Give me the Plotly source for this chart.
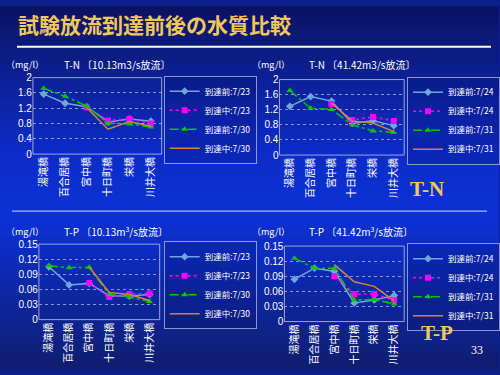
import plotly.graph_objects as go

W, H = 500, 375

categories = ["湯滝橋", "百合居橋", "宮中橋", "十日町橋", "栄橋", "川井大橋"]

# T-N (10.13m3/s)
tn1_before_723 = [1.57, 1.33, 1.24, 0.84, 0.92, 0.86]
tn1_during_723 = [None, None, 1.22, 0.88, 0.92, 0.80]
tn1_before_730 = [1.72, 1.51, 1.26, 0.81, 0.79, 0.71]
tn1_during_730 = [None, None, 1.22, 0.65, 0.85, 0.73]
tn1_names = ["到達前:7/23", "到達中:7/23", "到達前:7/30", "到達中:7/30"]

# T-N (41.42m3/s)
tn2_before_724 = [1.29, 1.55, 1.43, 0.84, 0.91, 0.78]
tn2_during_724 = [None, None, 1.35, 0.93, 1.01, 0.90]
tn2_before_731 = [1.71, 1.24, 1.21, 0.80, 0.64, 0.60]
tn2_during_731 = [None, None, 1.38, 0.90, 0.85, 0.62]
tn2_names = ["到達前:7/24", "到達中:7/24", "到達前:7/31", "到達中:7/31"]

# T-P (10.13m3/s)
tp1_before_723 = [0.105, 0.069, 0.072, 0.047, 0.047, 0.050]
tp1_during_723 = [None, None, 0.073, 0.045, 0.051, 0.052]
tp1_before_730 = [0.107, 0.103, 0.104, 0.050, 0.045, 0.036]
tp1_during_730 = [None, None, 0.104, 0.054, 0.050, 0.038]
tp1_names = ["到達前:7/23", "到達中:7/23", "到達前:7/30", "到達中:7/30"]

# T-P (41.42m3/s)
tp2_before_724 = [0.084, 0.106, 0.100, 0.037, 0.043, 0.052]
tp2_during_724 = [None, None, 0.090, 0.055, 0.055, 0.042]
tp2_before_731 = [0.126, 0.106, 0.106, 0.043, 0.044, 0.035]
tp2_during_731 = [None, None, 0.113, 0.079, 0.070, 0.041]
tp2_names = ["到達前:7/24", "到達中:7/24", "到達前:7/31", "到達中:7/31"]

main_title = "試験放流到達前後の水質比較"
panel_titles = ["T-N 〔10.13m3/s放流〕", "T-N 〔41.42m3/s放流〕",
                "T-P 〔10.13m<sup>3</sup>/s放流〕", "T-P 〔41.42m<sup>3</sup>/s放流〕"]
unit_label = "（mg/l）"

FONT = "Noto Sans CJK JP"
styles = [
    dict(color="#6fa6dc", symbol="diamond", size=6, dash="solid", width=1.5),
    dict(color="#ff00ff", symbol="square", size=6, dash="dot", width=1.5),
    dict(color="#00c800", symbol="triangle-up", size=6, dash="dashdot", width=1.5),
    dict(color="#c8883c", symbol=None, size=0, dash="solid", width=1.5),
]

def px_x(p):
    return p / W

def px_y(p):
    return 1 - p / H

panels = [
    dict(series=[tn1_before_723, tn1_during_723, tn1_before_730, tn1_during_730], names=tn1_names,
         xd=(33, 162), yd=(74, 153), rng=[0, 2], dtick=0.4, leg=(164, 72), unit=(4, 60), title=(62, 60)),
    dict(series=[tn2_before_724, tn2_during_724, tn2_before_731, tn2_during_731], names=tn2_names,
         xd=(280, 405), yd=(76, 154), rng=[0, 2], dtick=0.4, leg=(408, 73), unit=(251, 60), title=(308, 60)),
    dict(series=[tp1_before_723, tp1_during_723, tp1_before_730, tp1_during_730], names=tp1_names,
         xd=(39, 160), yd=(246, 324), rng=[0, 0.15], dtick=0.03, leg=(164, 243), unit=(4, 233), title=(62, 233)),
    dict(series=[tp2_before_724, tp2_during_724, tp2_before_731, tp2_during_731], names=tp2_names,
         xd=(285, 405), yd=(248, 326), rng=[0, 0.15], dtick=0.03, leg=(408, 245), unit=(251, 233), title=(308, 233)),
]

fig = go.Figure()
layout = dict(
    width=W, height=H, margin=dict(l=0, r=0, t=0, b=0),
    paper_bgcolor="#0c1f8c", plot_bgcolor="rgba(0,0,0,0)",
    font=dict(family=FONT, color="white", size=10),
    showlegend=True,
)
shapes = []
annotations = []

# background gradient (dark top, bright middle, darker bottom)
stops = [(0, (10, 18, 96)), (45, (12, 28, 130)), (150, (12, 44, 200)), (215, (12, 50, 215)),
         (260, (12, 44, 190)), (375, (16, 30, 110))]
step = 5
for y0 in range(0, H, step):
    yc = y0 + step / 2
    for (a, ca), (b, cb) in zip(stops[:-1], stops[1:]):
        if a <= yc <= b:
            t = (yc - a) / (b - a)
            c = tuple(int(ca[i] + (cb[i] - ca[i]) * t) for i in range(3))
            break
    shapes.append(dict(type="rect", xref="paper", yref="paper", x0=0, x1=1,
                       y0=px_y(y0 + step + 0.5), y1=px_y(y0), line=dict(width=0),
                       fillcolor="rgb(%d,%d,%d)" % c, layer="below"))

for i, p in enumerate(panels):
    k = "" if i == 0 else str(i + 1)
    xa, ya = "x" + k, "y" + k
    lg = "legend" + k
    for s, (vals, name) in enumerate(zip(p["series"], p["names"])):
        st = styles[s]
        mk = dict(color=st["color"], size=st["size"], symbol=st["symbol"]) if st["symbol"] else dict(size=1)
        fig.add_trace(go.Scatter(
            x=categories, y=vals, name=name, xaxis=xa, yaxis=ya, legend=lg,
            mode="lines+markers" if st["symbol"] else "lines",
            line=dict(color=st["color"], width=st["width"], dash=st["dash"]),
            marker=mk, connectgaps=False,
        ))
    layout["xaxis" + k] = dict(
        domain=[px_x(p["xd"][0]), px_x(p["xd"][1])], anchor=ya,
        type="category", range=[-0.5, 5.5], tickangle=-90,
        showgrid=False, zeroline=False, showline=False, ticks="",
        tickfont=dict(size=10, color="white", family=FONT),
    )
    layout["yaxis" + k] = dict(
        domain=[px_y(p["yd"][1]), px_y(p["yd"][0])], anchor=xa,
        range=p["rng"], dtick=p["dtick"], tick0=0,
        showgrid=True, gridcolor="rgba(200,210,255,0.65)", griddash="dot", gridwidth=1,
        zeroline=False, showline=False, ticks="",
        tickfont=dict(size=10, color="white", family="Liberation Sans"),
    )
    layout[lg] = dict(
        x=px_x(p["leg"][0]), y=px_y(p["leg"][1]), xanchor="left", yanchor="top",
        bgcolor="rgba(0,0,60,0.12)", bordercolor="rgba(170,180,230,0.8)", borderwidth=1,
        font=dict(size=8.5, color="white", family=FONT), itemwidth=30, tracegroupgap=0,
    )
    # plot frame
    shapes.append(dict(type="rect", xref="paper", yref="paper",
                       x0=px_x(p["xd"][0]), x1=px_x(p["xd"][1]),
                       y0=px_y(p["yd"][1]), y1=px_y(p["yd"][0]),
                       line=dict(color="rgba(170,180,220,0.9)", width=1)))
    annotations.append(dict(text=unit_label, xref="paper", yref="paper",
                            x=px_x(p["unit"][0]), y=px_y(p["unit"][1]), xanchor="left", yanchor="middle",
                            showarrow=False, font=dict(size=9, color="white", family=FONT)))
    annotations.append(dict(text=panel_titles[i], xref="paper", yref="paper",
                            x=px_x(p["title"][0]), y=px_y(p["title"][1]), xanchor="left", yanchor="middle",
                            showarrow=False, font=dict(size=10, color="white", family=FONT)))

# main title + underline
annotations.append(dict(text="<b>" + main_title + "</b>", xref="paper", yref="paper",
                        x=px_x(16), y=px_y(19), xanchor="left", yanchor="middle", showarrow=False,
                        font=dict(size=21, color="#f2c85a", family=FONT)))
shapes.append(dict(type="line", xref="paper", yref="paper", x0=px_x(17), x1=px_x(492),
                   y0=px_y(42), y1=px_y(42), line=dict(color="white", width=2)))
# separator
shapes.append(dict(type="line", xref="paper", yref="paper", x0=px_x(12), x1=px_x(488),
                   y0=px_y(212), y1=px_y(212), line=dict(color="rgba(190,200,240,0.9)", width=1.2)))
# labels
annotations.append(dict(text="<b>T-N</b>", xref="paper", yref="paper", x=px_x(447), y=px_y(189),
                        showarrow=False, font=dict(size=21, color="#f2c85a", family="Liberation Serif")))
annotations.append(dict(text="<b>T-P</b>", xref="paper", yref="paper", x=px_x(456), y=px_y(352),
                        showarrow=False, font=dict(size=21, color="#f2c85a", family="Liberation Serif")))
annotations.append(dict(text="33", xref="paper", yref="paper", x=px_x(486), y=px_y(365),
                        showarrow=False, font=dict(size=12, color="white", family="Liberation Serif")))

layout["shapes"] = shapes
layout["annotations"] = annotations
fig.update_layout(**layout)
fig.write_html("out.html", config={"displayModeBar": False},
               post_script="document.body.style.margin='0px';document.body.style.overflow='hidden';")
